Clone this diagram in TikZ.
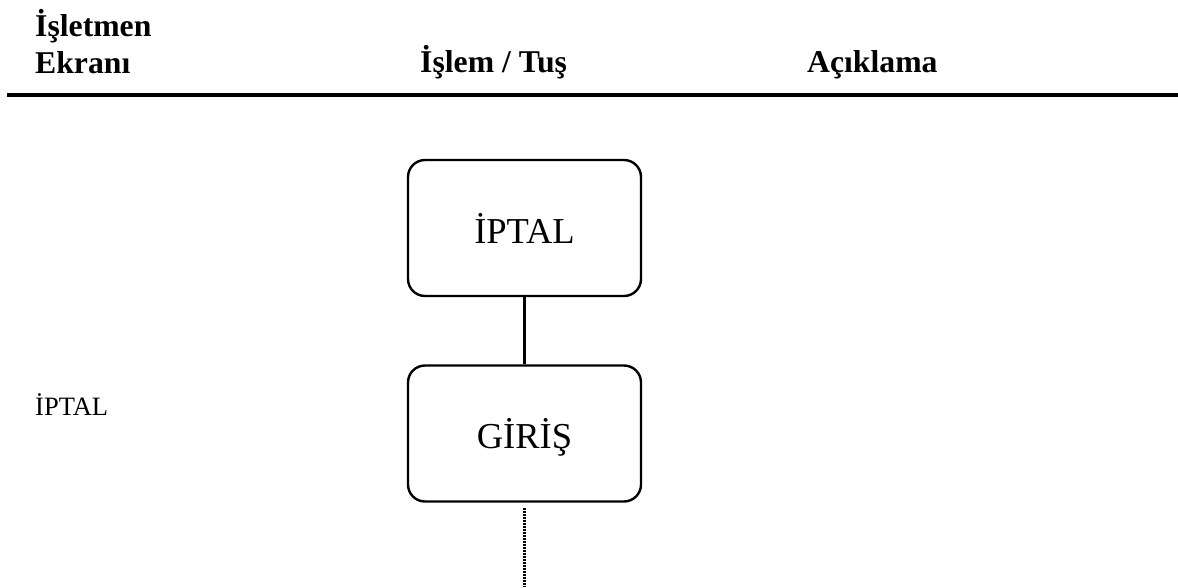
\documentclass[tikz,border=0pt]{standalone}
\usepackage{fontspec}
\setmainfont{Liberation Serif}
\begin{document}
\begin{tikzpicture}[x=1pt,y=-1pt,
  hdr/.style={anchor=base west, inner sep=0pt, font=\fontsize{31.7}{37}\selectfont\bfseries},
  keybox/.style={draw, line width=2.4pt, rounded corners=17pt, minimum width=233pt, minimum height=136pt,
    inner sep=0pt, text depth=0pt, font=\fontsize{36.5}{42}\selectfont},
  lbl/.style={anchor=base west, inner sep=0pt, font=\fontsize{26.5}{30}\selectfont},
  link/.style={line width=2.2pt},
  dotlink/.style={line width=2.5pt, dash pattern=on 1.6pt off 1.4pt}]
\useasboundingbox (0,0) rectangle (1178,587);
% header
\node[hdr] (h1a) at (35,36) {İşletmen};
\node[hdr] (h1b) at (35,73) {Ekranı};
\node[hdr] (h2) at (420,72) {İşlem / Tuş};
\node[hdr] (h3) at (807,72) {Açıklama};
\coordinate (r1) at (7,95);
\coordinate (r2) at (1178,95);
\draw[line width=4.5pt] (r1) -- (r2);
% boxes
\node[keybox] (b1) at (524.5,228) {İPTAL};
\node[keybox] (b2) at (524.5,433.5) {GİRİŞ};
\draw[link] (b1.south) -- (b2.north);
\coordinate (d1) at (524.5,508);
\coordinate (d2) at (524.5,587);
\draw[dotlink] (d1) -- (d2);
% left label
\node[lbl] (l1) at (35,415) {İPTAL};
\end{tikzpicture}
\end{document}
